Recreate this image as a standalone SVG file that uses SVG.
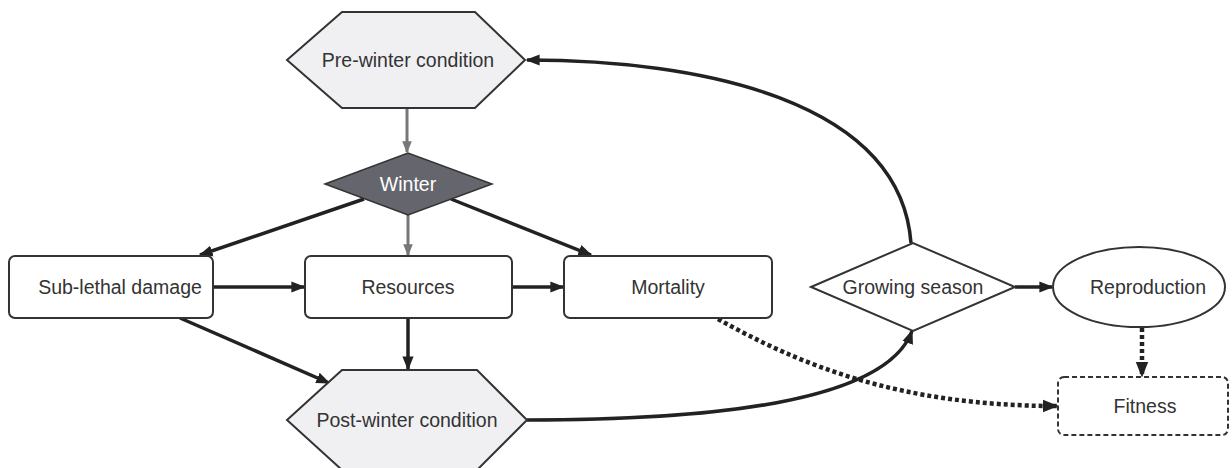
<svg xmlns="http://www.w3.org/2000/svg" width="1232" height="468" viewBox="0 0 1232 468">
<style>
text{font-family:"Liberation Sans",Arial,sans-serif;font-size:19.5px;fill:#333;text-anchor:middle;dominant-baseline:central}
.hex{fill:#f0f0f3;stroke:#333;stroke-width:2}
.box{fill:#fff;stroke:#333;stroke-width:2}
.c{fill:none;stroke:#222;stroke-width:3.5}
.g{fill:none;stroke:#777;stroke-width:3}
.d{fill:none;stroke:#222;stroke-width:4.5;stroke-dasharray:4 3}
</style>
<defs>
<marker id="ab" viewBox="0 0 10 10" refX="9" refY="5" markerWidth="4" markerHeight="4" orient="auto" markerUnits="strokeWidth"><path d="M0,1 L10,5 L0,9 Z" fill="#222"/></marker>
<marker id="ag" viewBox="0 0 10 10" refX="9" refY="5" markerWidth="4" markerHeight="4" orient="auto" markerUnits="strokeWidth"><path d="M0,1 L10,5 L0,9 Z" fill="#777"/></marker>
<marker id="ad" viewBox="0 0 10 10" refX="9" refY="5" markerWidth="3.5" markerHeight="3.5" orient="auto" markerUnits="strokeWidth"><path d="M0,1 L10,5 L0,9 Z" fill="#222"/></marker>
</defs>
<g id="connectors">
<path class="g" d="M407,108 L407,152" marker-end="url(#ag)"/>
<path class="g" d="M408,215 L408,255" marker-end="url(#ag)"/>
<path class="c" d="M364,199 L200,255" marker-end="url(#ab)"/>
<path class="c" d="M451,199 L591,255" marker-end="url(#ab)"/>
<path class="c" d="M213,287 L304,287" marker-end="url(#ab)"/>
<path class="c" d="M512,287 L563,287" marker-end="url(#ab)"/>
<path class="c" d="M180,318 L329,383" marker-end="url(#ab)"/>
<path class="c" d="M408,318 L408,369" marker-end="url(#ab)"/>
<path class="c" d="M527,420 C700,420 885,405 912,331" marker-end="url(#ab)"/>
<path class="c" d="M911,243 C900,100 700,60 527,60" marker-end="url(#ab)"/>
<path class="c" d="M1015,287 L1052,287" marker-end="url(#ab)"/>
<path class="d" d="M1142,328 L1142,376" marker-end="url(#ad)"/>
<path class="d" d="M718,319 C800,365 900,406 1057,406" marker-end="url(#ad)"/>
</g>
<g id="pre-winter">
<polygon class="hex" points="287,60 342,12 475,12 525,60 475,108 342,108"/>
<text x="408" y="60">Pre-winter condition</text>
</g>
<g id="winter">
<polygon points="325,184 408,153 492,184 408,215" fill="#65666d" stroke="#333" stroke-width="1.5"/>
<text x="408" y="184" style="fill:#fff">Winter</text>
</g>
<g id="sub-lethal">
<rect class="box" x="9" y="256" width="204" height="62" rx="6"/>
<text x="120" y="287">Sub-lethal damage</text>
</g>
<g id="resources">
<rect class="box" x="305" y="256" width="207" height="62" rx="6"/>
<text x="408" y="287">Resources</text>
</g>
<g id="mortality">
<rect class="box" x="564" y="256" width="208" height="62" rx="6"/>
<text x="668" y="287">Mortality</text>
</g>
<g id="growing-season">
<polygon class="box" points="811,287 913,243 1015,287 913,331"/>
<text x="913" y="287">Growing season</text>
</g>
<g id="reproduction">
<ellipse class="box" cx="1139" cy="287" rx="86" ry="40"/>
<text x="1148" y="287">Reproduction</text>
</g>
<g id="fitness">
<rect x="1058" y="377" width="170" height="58" rx="6" fill="#fff" stroke="#333" stroke-width="2" stroke-dasharray="5 3"/>
<text x="1145" y="406">Fitness</text>
</g>
<g id="post-winter">
<polygon class="hex" points="287,420 342,370 477,370 527,420 477,470 342,470"/>
<text x="407" y="420">Post-winter condition</text>
</g>
</svg>
